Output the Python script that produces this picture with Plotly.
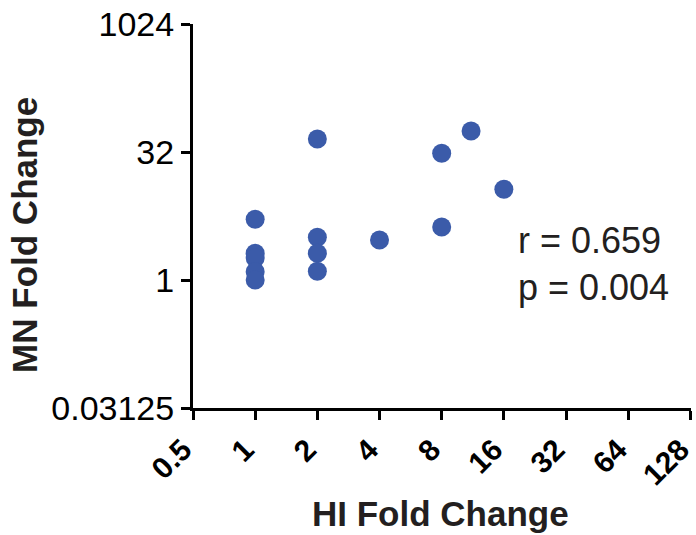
import plotly.graph_objects as go
import math

hi_fold = [1, 1, 1, 1, 1, 2, 2, 2, 2, 4, 8, 8, 11.1, 16]
mn_fold = [5.17, 2.07, 1.81, 1.25, 1.0, 45.5, 3.18, 2.06, 1.27, 2.95, 30.9, 4.2, 56.5, 11.7]

x_ticks = [0.5, 1, 2, 4, 8, 16, 32, 64, 128]
x_ticktext = ["0.5", "1", "2", "4", "8", "16", "32", "64", "128"]
y_ticks = [0.03125, 1, 32, 1024]
y_ticktext = ["0.03125", "1", "32", "1024"]

stats_text = "r = 0.659<br>p = 0.004"

fig = go.Figure()
fig.add_trace(go.Scatter(
    x=hi_fold, y=mn_fold, mode="markers",
    marker=dict(size=19, color="#3B5BA9", line=dict(width=0)),
    cliponaxis=False, showlegend=False,
))

fig.update_layout(
    width=696, height=535,
    margin=dict(l=193, r=5, t=24, b=127),
    plot_bgcolor="white", paper_bgcolor="white",
    font=dict(family="Liberation Sans, Arial, sans-serif", color="black"),
    xaxis=dict(
        type="log", range=[math.log10(0.5), math.log10(128) + 0.003],
        tickvals=x_ticks, ticktext=x_ticktext, tickangle=-45,
        ticklabeloverflow="allow", automargin=False, ticklabelshift=-10,
        tickfont=dict(size=30, family="Liberation Sans, Arial, sans-serif", weight="bold"),
        showline=True, linecolor="black", linewidth=3,
        ticks="outside", ticklen=9, tickwidth=3, tickcolor="black",
        showgrid=False, zeroline=False,
    ),
    yaxis=dict(
        type="log", range=[math.log10(0.03125), math.log10(1024)],
        tickvals=y_ticks, ticktext=y_ticktext, automargin=False,
        tickfont=dict(size=34),
        showline=True, linecolor="black", linewidth=3,
        ticks="outside", ticklen=9, tickwidth=3, tickcolor="black",
        showgrid=False, zeroline=False,
    ),
)

fig.add_annotation(
    x=0.497, y=-0.275, xref="paper", yref="paper", xanchor="center", yanchor="middle",
    text="<b>HI Fold Change</b>", showarrow=False,
    font=dict(size=35, color="#231f20"),
)

fig.add_annotation(
    x=-0.338, y=0.45, xref="paper", yref="paper", xanchor="center", yanchor="middle",
    text="<b>MN Fold Change</b>", textangle=-90, showarrow=False,
    font=dict(size=35, color="#231f20"),
)

fig.add_annotation(
    x=0.649, y=0.375, xref="paper", yref="paper", xanchor="left", yanchor="middle",
    text=stats_text, showarrow=False, align="left",
    font=dict(size=36, color="#231f20"),
)

fig.write_html("out.html")
